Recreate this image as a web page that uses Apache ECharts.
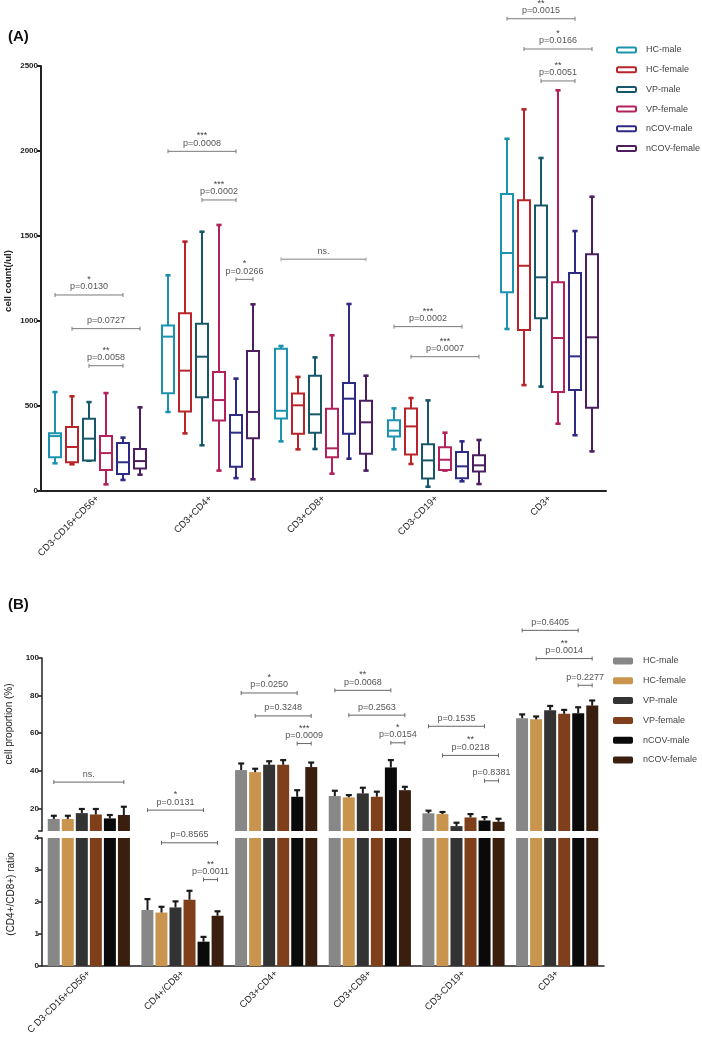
<!DOCTYPE html>
<html><head><meta charset="utf-8">
<script src="https://cdn.jsdelivr.net/npm/echarts@6/dist/echarts.min.js"></script>
<style>html,body{margin:0;padding:0;background:#fff}#c{width:702px;height:1040px}</style>
</head><body><div id="c"></div>
<script>
// ---------- shared ----------
const groups = ['HC-male', 'HC-female', 'VP-male', 'VP-female', 'nCOV-male', 'nCOV-female'];

// ---------- panel A: box plots, cell count (/ul) ----------
const catsA = ['CD3-CD16+CD56+', 'CD3+CD4+', 'CD3+CD8+', 'CD3-CD19+', 'CD3+'];
const colorsA = ['#1c93ae', '#b7252a', '#16586a', '#b3215c', '#2d2b86', '#4c1e5f'];
const yTicksA = [0, 500, 1000, 1500, 2000, 2500];
// each row: [min, q1, median, q3, max] for one category
const boxHCmale = [[163, 198, 323, 339, 582], [465, 575, 908, 973, 1269], [292, 427, 472, 837, 853], [245, 320, 355, 416, 486], [953, 1169, 1400, 1747, 2072]];
const boxHCfemale = [[157, 169, 259, 376, 557], [339, 467, 708, 1045, 1467], [245, 337, 504, 573, 671], [159, 214, 380, 486, 547], [623, 947, 1325, 1710, 2245]];
const boxVPmale = [[178, 180, 308, 425, 523], [269, 551, 790, 984, 1525], [247, 343, 451, 678, 786], [25, 73, 180, 275, 533], [614, 1016, 1257, 1680, 1959]];
const boxVPfemale = [[39, 123, 223, 323, 576], [120, 414, 535, 700, 1565], [102, 198, 251, 484, 916], [120, 124, 184, 257, 343], [396, 582, 900, 1228, 2357]];
const boxNCOVmale = [[65, 100, 169, 282, 314], [76, 143, 343, 447, 661], [190, 337, 543, 635, 1100], [57, 75, 145, 229, 292], [328, 594, 792, 1282, 1529]];
const boxNCOVfemale = [[96, 133, 176, 247, 492], [69, 310, 465, 823, 1098], [120, 219, 404, 531, 678], [41, 114, 151, 210, 300], [233, 490, 904, 1392, 1731]];
const boxData = [boxHCmale, boxHCfemale, boxVPmale, boxVPfemale, boxNCOVmale, boxNCOVfemale];
// significance: [category, fromGroup, toGroup, y value, stars, label]
const bracketsA = [
  [0, 0, 4, 1153, '*', 'p=0.0130'],
  [0, 1, 5, 955, '', 'p=0.0727'],
  [0, 2, 4, 737, '**', 'p=0.0058'],
  [1, 0, 4, 1998, '***', 'p=0.0008'],
  [1, 2, 4, 1712, '***', 'p=0.0002'],
  [1, 4, 5, 1245, '*', 'p=0.0266'],
  [2, 0, 5, 1363, '', 'ns.'],
  [3, 0, 4, 967, '***', 'p=0.0002'],
  [3, 1, 5, 790, '***', 'p=0.0007'],
  [4, 0, 4, 2778, '**', 'p=0.0015'],
  [4, 1, 5, 2600, '*', 'p=0.0166'],
  [4, 2, 4, 2412, '**', 'p=0.0051']
];

// ---------- panel B: bars, cell proportion (%) and CD4+/CD8+ ratio ----------
const catsB = ['C D3-CD16+CD56+', 'CD4+/CD8+', 'CD3+CD4+', 'CD3+CD8+', 'CD3-CD19+', 'CD3+'];
const RATIO_CAT = 1; // category plotted on the lower (ratio) axis
const colorsB = ['#878787', '#c9954e', '#333333', '#7f3f1a', '#0a0a0a', '#3a1f0f'];
const yTicksBUpper = [20, 40, 60, 80, 100];
const yTicksBLower = [0, 1, 2, 3, 4];
const meanHCmale = [14.4, 1.75, 40.4, 26.6, 17.4, 68.0];
const meanHCfemale = [14.4, 1.67, 39.3, 25.9, 17.0, 67.4];
const meanVPmale = [17.5, 1.83, 43.2, 28.0, 10.6, 72.2];
const meanVPfemale = [16.8, 2.07, 43.2, 26.2, 15.2, 70.3];
const meanNCOVmale = [14.7, 0.76, 26.2, 41.8, 13.6, 70.6];
const meanNCOVfemale = [16.5, 1.57, 42.0, 29.7, 12.9, 74.7];
const semHCmale = [1.7, 0.34, 3.5, 2.8, 1.4, 2.0];
const semHCfemale = [1.7, 0.18, 1.8, 1.2, 1.1, 1.5];
const semVPmale = [2.2, 0.19, 1.9, 3.0, 1.8, 2.3];
const semVPfemale = [2.9, 0.28, 2.5, 2.7, 1.8, 2.1];
const semNCOVmale = [1.8, 0.15, 3.5, 3.9, 1.8, 3.2];
const semNCOVfemale = [4.4, 0.14, 2.4, 1.8, 1.6, 2.7];
const meansB = [meanHCmale, meanHCfemale, meanVPmale, meanVPfemale, meanNCOVmale, meanNCOVfemale];
const semsB = [semHCmale, semHCfemale, semVPmale, semVPfemale, semNCOVmale, semNCOVfemale];
const bracketsBUpper = [
  [0, 0, 5, 34.0, '', 'ns.'],
  [1, 0, 4, 19.1, '*', 'p=0.0131'],
  [2, 0, 4, 81.4, '*', 'p=0.0250'],
  [2, 1, 5, 69.2, '', 'p=0.3248'],
  [2, 4, 5, 54.5, '***', 'p=0.0009'],
  [3, 0, 4, 82.8, '**', 'p=0.0068'],
  [3, 1, 5, 69.6, '', 'p=0.2563'],
  [3, 4, 5, 54.9, '*', 'p=0.0154'],
  [4, 0, 4, 63.7, '', 'p=0.1535'],
  [4, 1, 5, 48.2, '**', 'p=0.0218'],
  [4, 4, 5, 34.7, '', 'p=0.8381'],
  [5, 0, 4, 114.7, '', 'p=0.6405'],
  [5, 1, 5, 99.7, '**', 'p=0.0014'],
  [5, 4, 5, 85.5, '', 'p=0.2277']
];
const bracketsBLower = [
  [1, 1, 5, 3.85, '', 'p=0.8565'],
  [1, 4, 5, 2.70, '**', 'p=0.0011']
];

// ---------- layout / style constants ----------
const FONT = '"Liberation Sans", Arial, sans-serif';
const BOX_STEP = 17, BOX_W = 12;
const BAR_W = 12, BAR_STEP = 14;
const offA = g => (g - 2.5) * BOX_STEP;
const offB = g => (g - 2.5) * BAR_STEP;

function boxRender(gi) {
  return function (params, api) {
    const cat = api.value(0);
    const pm = api.coord([cat, api.value(3)]);
    const x = pm[0] + offA(gi);
    const yl = api.coord([cat, api.value(1)])[1];
    const yq1 = api.coord([cat, api.value(2)])[1];
    const yq3 = api.coord([cat, api.value(4)])[1];
    const yh = api.coord([cat, api.value(5)])[1];
    const c = colorsA[gi];
    const ls = { stroke: c, lineWidth: 2 };
    const cs = { stroke: c, lineWidth: 2.6 };
    return {
      type: 'group', children: [
        { type: 'line', shape: { x1: x, y1: yq3, x2: x, y2: yh }, style: ls },
        { type: 'line', shape: { x1: x, y1: yq1, x2: x, y2: yl }, style: ls },
        { type: 'line', shape: { x1: x - 2.6, y1: yh, x2: x + 2.6, y2: yh }, style: cs },
        { type: 'line', shape: { x1: x - 2.6, y1: yl, x2: x + 2.6, y2: yl }, style: cs },
        { type: 'rect', shape: { x: x - BOX_W / 2, y: yq3, width: BOX_W, height: yq1 - yq3 }, style: { stroke: c, lineWidth: 2, fill: '#fff' } },
        { type: 'line', shape: { x1: x - BOX_W / 2, y1: pm[1], x2: x + BOX_W / 2, y2: pm[1] }, style: ls }
      ]
    };
  };
}

function bracketRender(list, offFn, color, nsColor) {
  return function (params, api) {
    const b = list[params.dataIndex];
    const p = api.coord([b[0], b[3]]);
    const x0 = p[0] + offFn(b[1]), x1 = p[0] + offFn(b[2]), y = p[1];
    const isNs = b[5] === 'ns.';
    const lc = isNs && nsColor ? nsColor : color;
    const lw = isNs && nsColor ? 1.4 : 1;
    const xm = (x0 + x1) / 2;
    const ch = [
      { type: 'line', shape: { x1: x0, y1: y, x2: x1, y2: y }, style: { stroke: lc, lineWidth: lw } },
      { type: 'line', shape: { x1: x0, y1: y - 2, x2: x0, y2: y + 2 }, style: { stroke: lc, lineWidth: 1 } },
      { type: 'line', shape: { x1: x1, y1: y - 2, x2: x1, y2: y + 2 }, style: { stroke: lc, lineWidth: 1 } },
      { type: 'text', style: { text: b[5], x: xm, y: y - 3.5, align: 'center', verticalAlign: 'bottom', fontSize: 9, fontFamily: FONT, fill: '#555' } }
    ];
    if (b[4]) ch.push({ type: 'text', style: { text: b[4], x: xm, y: y - 11, align: 'center', verticalAlign: 'bottom', fontSize: 9, fontFamily: FONT, fill: '#444' } });
    return { type: 'group', children: ch };
  };
}

function errRender(params, api) {
  const cat = api.value(0), g = api.value(3);
  const p0 = api.coord([cat, api.value(1)]);
  const p1 = api.coord([cat, api.value(2)]);
  const x = p0[0] + offB(g);
  return {
    type: 'group', children: [
      { type: 'line', shape: { x1: x, y1: p0[1], x2: x, y2: p1[1] }, style: { stroke: '#1a1a1a', lineWidth: 2 } },
      { type: 'line', shape: { x1: x - 3, y1: p1[1], x2: x + 3, y2: p1[1] }, style: { stroke: '#1a1a1a', lineWidth: 2.2 } }
    ]
  };
}

const plainNum = v => String(v);
const axisLabelStyle = { fontSize: 8, fontWeight: 'bold', color: '#222', fontFamily: FONT, formatter: plainNum };
const catLabelStyle = { rotate: 45, fontSize: 9.5, color: '#222', fontFamily: FONT, margin: 6, interval: 0 };

const series = [];
// panel A boxes
groups.forEach((g, gi) => {
  series.push({
    name: g, type: 'custom', xAxisIndex: 0, yAxisIndex: 0,
    itemStyle: { color: colorsA[gi] },
    renderItem: boxRender(gi),
    encode: { x: 0, y: [1, 2, 3, 4, 5] },
    data: boxData[gi].map((d, ci) => [ci].concat(d)),
    z: 3
  });
});
series.push({
  type: 'custom', xAxisIndex: 0, yAxisIndex: 0, silent: true, clip: false,
  renderItem: bracketRender(bracketsA, offA, '#7a7a7a', '#aaaaaa'),
  encode: { x: 0, y: 1 },
  data: bracketsA.map(b => [b[0], b[3]]), z: 4
});
// panel B bars
groups.forEach((g, gi) => {
  series.push({
    name: g, type: 'bar', xAxisIndex: 1, yAxisIndex: 1, barWidth: BAR_W, barGap: '17%',
    itemStyle: { color: colorsB[gi] },
    data: meansB[gi].map((v, ci) => ci === RATIO_CAT ? '-' : v)
  });
});
groups.forEach((g, gi) => {
  series.push({
    name: g, type: 'bar', xAxisIndex: 2, yAxisIndex: 2, barWidth: BAR_W, barGap: '17%',
    itemStyle: { color: colorsB[gi] },
    data: meansB[gi].slice()
  });
});
const errUpper = [], errLower = [];
groups.forEach((g, gi) => {
  meansB[gi].forEach((v, ci) => {
    const row = [ci, v, v + semsB[gi][ci], gi];
    if (ci === RATIO_CAT) errLower.push(row); else errUpper.push(row);
  });
});
series.push({ type: 'custom', xAxisIndex: 1, yAxisIndex: 1, silent: true, clip: false, renderItem: errRender, encode: { x: 0, y: [1, 2] }, data: errUpper, z: 5 });
series.push({ type: 'custom', xAxisIndex: 2, yAxisIndex: 2, silent: true, clip: false, renderItem: errRender, encode: { x: 0, y: [1, 2] }, data: errLower, z: 5 });
series.push({ type: 'custom', xAxisIndex: 1, yAxisIndex: 1, silent: true, clip: false, renderItem: bracketRender(bracketsBUpper, offB, '#666'), encode: { x: 0, y: 1 }, data: bracketsBUpper.map(b => [b[0], b[3]]), z: 6 });
series.push({ type: 'custom', xAxisIndex: 2, yAxisIndex: 2, silent: true, clip: false, renderItem: bracketRender(bracketsBLower, offB, '#666'), encode: { x: 0, y: 1 }, data: bracketsBLower.map(b => [b[0], b[3]]), z: 6 });

const legendText = { fontSize: 9, color: '#444', fontFamily: FONT, lineHeight: 12, padding: [0, 0, 0, 5] };

const option = {
  animation: false,
  backgroundColor: '#fff',
  title: [
    { text: '(A)', left: 8, top: 29, padding: 0, textStyle: { fontSize: 15, fontWeight: 'bold', color: '#111', fontFamily: FONT } },
    { text: '(B)', left: 8, top: 597, padding: 0, textStyle: { fontSize: 15, fontWeight: 'bold', color: '#111', fontFamily: FONT } }
  ],
  legend: [
    {
      orient: 'vertical', left: 616, top: 44, padding: 0, itemWidth: 19, itemHeight: 5, itemGap: 7.7,
      icon: 'roundRect', selectedMode: false, textStyle: legendText,
      data: groups.map((g, i) => ({ name: g, itemStyle: { color: '#fff', borderColor: colorsA[i], borderWidth: 2 } }))
    },
    {
      orient: 'vertical', left: 613, top: 655, padding: 0, itemWidth: 20, itemHeight: 7, itemGap: 7.8,
      icon: 'roundRect', selectedMode: false, textStyle: legendText,
      data: groups.map((g, i) => ({ name: g, itemStyle: { color: colorsB[i], borderWidth: 0 } }))
    }
  ],
  grid: [
    { left: 41, top: 66, width: 565, height: 425 },
    { left: 42, top: 658, width: 562, height: 173 },
    { left: 42, top: 838, width: 562, height: 128 }
  ],
  xAxis: [
    {
      gridIndex: 0, type: 'category', data: catsA,
      axisLine: { lineStyle: { color: '#222', width: 2 } },
      axisTick: { alignWithLabel: true, length: 4, lineStyle: { color: '#222', width: 1.5 } },
      axisLabel: catLabelStyle
    },
    { gridIndex: 1, type: 'category', data: catsB, show: false },
    {
      gridIndex: 2, type: 'category', data: catsB,
      axisLine: { lineStyle: { color: '#222', width: 1.5 } },
      axisTick: { alignWithLabel: true, length: 4, lineStyle: { color: '#222', width: 1.5 } },
      axisLabel: catLabelStyle
    }
  ],
  yAxis: [
    {
      gridIndex: 0, type: 'value', min: yTicksA[0], max: yTicksA[yTicksA.length - 1], interval: 500,
      splitLine: { show: false },
      axisLine: { show: true, lineStyle: { color: '#222', width: 2 } },
      axisTick: { show: true, length: 4, lineStyle: { color: '#222', width: 2 } },
      axisLabel: Object.assign({ margin: 3 }, axisLabelStyle)
    },
    {
      gridIndex: 1, type: 'value', min: 8, max: yTicksBUpper[yTicksBUpper.length - 1],
      splitLine: { show: false },
      axisLine: { show: true, lineStyle: { color: '#222', width: 1.5 } },
      axisTick: { show: true, length: 4, customValues: [8].concat(yTicksBUpper), lineStyle: { color: '#222', width: 1.5 } },
      axisLabel: Object.assign({ margin: 3, customValues: yTicksBUpper }, axisLabelStyle)
    },
    {
      gridIndex: 2, type: 'value', min: yTicksBLower[0], max: yTicksBLower[yTicksBLower.length - 1], interval: 1,
      splitLine: { show: false },
      axisLine: { show: true, lineStyle: { color: '#222', width: 1.5 } },
      axisTick: { show: true, length: 4, lineStyle: { color: '#222', width: 1.5 } },
      axisLabel: Object.assign({ margin: 3 }, axisLabelStyle)
    }
  ],
  graphic: [
    { type: 'text', x: 8, y: 281, rotation: Math.PI / 2, style: { text: 'cell count(/ul)', align: 'center', verticalAlign: 'middle', fontSize: 9.5, fontWeight: 'bold', fill: '#222', fontFamily: FONT } },
    { type: 'text', x: 9.5, y: 724, rotation: Math.PI / 2, style: { text: 'cell proportion (%)', align: 'center', verticalAlign: 'middle', fontSize: 10, fill: '#222', fontFamily: FONT } },
    { type: 'text', x: 11.5, y: 894, rotation: Math.PI / 2, style: { text: '(CD4+/CD8+) ratio', align: 'center', verticalAlign: 'middle', fontSize: 10, fill: '#222', fontFamily: FONT } }
  ],
  series: series
};

const chart = echarts.init(document.getElementById('c'), null, { renderer: 'canvas' });
chart.setOption(option);
</script>
</body></html>
